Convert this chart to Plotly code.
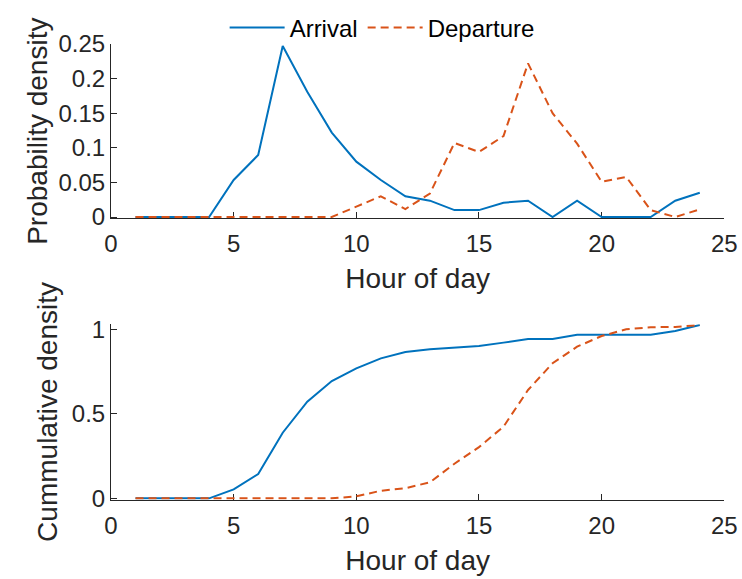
import plotly.graph_objects as go

hours = list(range(1, 25))

arrival_density = [0, 0, 0, 0, 0.0535, 0.0896, 0.247, 0.181, 0.122, 0.080, 0.0535, 0.030,
                   0.0236, 0.010, 0.010, 0.0207, 0.0236, 0, 0.0236, 0, 0, 0, 0.0236, 0.035]
departure_density = [0, 0, 0, 0, 0, 0, 0, 0, 0, 0.015, 0.030, 0.0115,
                     0.034, 0.107, 0.094, 0.117, 0.222, 0.150, 0.106, 0.051, 0.058, 0.010, 0, 0.011]

arrival_cum = [0, 0, 0, 0, 0.053, 0.144, 0.388, 0.572, 0.694, 0.769, 0.828, 0.866,
               0.882, 0.891, 0.901, 0.921, 0.943, 0.943, 0.968, 0.968, 0.968, 0.968, 0.990, 1.025]
departure_cum = [0, 0, 0, 0, 0, 0, 0, 0, 0, 0.012, 0.045, 0.060,
                 0.095, 0.205, 0.303, 0.424, 0.641, 0.799, 0.897, 0.960, 1.000, 1.012, 1.014, 1.025]

x_ticks = [0, 5, 10, 15, 20, 25]
top_y_ticks = [0, 0.05, 0.1, 0.15, 0.2, 0.25]
top_y_labels = ["0", "0.05", "0.1", "0.15", "0.2", "0.25"]
bot_y_ticks = [0, 0.5, 1]
bot_y_labels = ["0", "0.5", "1"]

BLUE = "#0072BD"
ORANGE = "#D95319"
AX = "#262626"
FONT = "Liberation Sans, Arial, sans-serif"
DASH = "8px,5px"

fig = go.Figure()
fig.add_trace(go.Scatter(x=hours, y=arrival_density, mode="lines", name="Arrival",
                         line=dict(color=BLUE, width=2), xaxis="x", yaxis="y"))
fig.add_trace(go.Scatter(x=hours, y=departure_density, mode="lines", name="Departure",
                         line=dict(color=ORANGE, width=2, dash=DASH), xaxis="x", yaxis="y"))
fig.add_trace(go.Scatter(x=hours, y=arrival_cum, mode="lines", name="Arrival", showlegend=False,
                         line=dict(color=BLUE, width=2), xaxis="x2", yaxis="y2"))
fig.add_trace(go.Scatter(x=hours, y=departure_cum, mode="lines", name="Departure", showlegend=False,
                         line=dict(color=ORANGE, width=2, dash=DASH), xaxis="x2", yaxis="y2"))

xdom = [111 / 742, 724.3 / 742]
axis_common = dict(showline=True, linecolor=AX, linewidth=1, ticks="inside", ticklen=6,
                   tickcolor=AX, tickwidth=1, showgrid=False, zeroline=False, automargin=False,
                   tickfont=dict(family=FONT, size=24, color=AX), layer="below traces")
TITLE_FONT = dict(family=FONT, size=28, color=AX)

fig.update_layout(
    width=742, height=579, autosize=False,
    margin=dict(l=0, r=0, t=0, b=0, autoexpand=False),
    paper_bgcolor="white", plot_bgcolor="white",
    font=dict(family=FONT, color=AX),
    showlegend=True,
    legend=dict(orientation="h", x=0.515, y=1 - 28 / 579, xanchor="center", yanchor="middle",
                font=dict(family=FONT, size=24, color="#000000"), bgcolor="rgba(0,0,0,0)",
                itemwidth=55),
    xaxis=dict(domain=xdom, anchor="y", range=[0, 25], tickvals=x_ticks, ticklabelstandoff=4,
               title=dict(text="Hour of day", font=TITLE_FONT, standoff=12),
               **axis_common),
    yaxis=dict(domain=[1 - 218.4 / 579, 1 - 44 / 579], anchor="x", range=[-0.002, 0.25],
               tickvals=top_y_ticks, ticktext=top_y_labels,
               title=dict(text="Probability density", font=TITLE_FONT, standoff=2),
               **axis_common),
    xaxis2=dict(domain=xdom, anchor="y2", range=[0, 25], tickvals=x_ticks, ticklabelstandoff=4,
                title=dict(text="Hour of day", font=TITLE_FONT, standoff=12),
                **axis_common),
    yaxis2=dict(domain=[1 - 499.7 / 579, 1 - 324.2 / 579], anchor="x2", range=[-0.008, 1.03],
                tickvals=bot_y_ticks, ticktext=bot_y_labels,
                title=dict(text="Cummulative density", font=TITLE_FONT, standoff=6),
                **axis_common),
)

fig.write_html("out.html")
